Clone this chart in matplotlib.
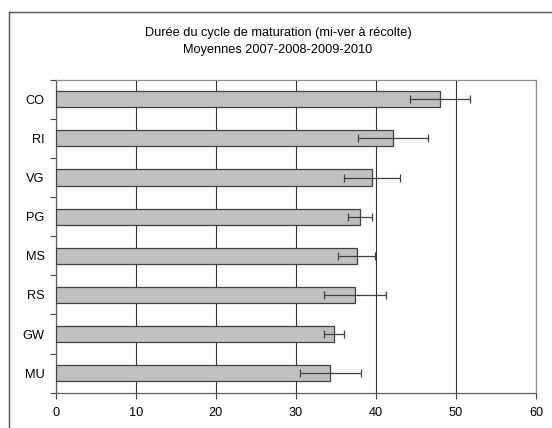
import matplotlib
matplotlib.use("Agg")
import matplotlib.pyplot as plt
from matplotlib.lines import Line2D
import numpy as np

plt.rcParams['font.family'] = ['Liberation Sans', 'DejaVu Sans']

categories = ["CO", "RI", "VG", "PG", "MS", "RS", "GW", "MU"]
values = [48.0, 42.1, 39.5, 38.0, 37.6, 37.4, 34.8, 34.3]
errors = [3.7, 4.4, 3.5, 1.5, 2.3, 3.85, 1.25, 3.85]
xticks = [0, 10, 20, 30, 40, 50, 60]

fig = plt.figure(figsize=(5.52, 4.28), dpi=100)
ax = fig.add_axes([0.1014, 0.0825, 0.8696, 0.7313])

pos = np.arange(len(categories))
ax.barh(pos, values, height=0.41, color="#c0c0c0", edgecolor="#404040",
        linewidth=0.9, zorder=3)
ax.errorbar(values, pos, xerr=errors, fmt="none", ecolor="#404040",
            elinewidth=0.9, capsize=3, capthick=0.9, zorder=4)

ax.set_xlim(0, 60)
ax.set_ylim(len(categories) - 0.5, -0.5)
ax.set_xticks(xticks)
ax.set_yticks(pos)
ax.set_yticklabels(categories)
ax.set_yticks(np.arange(len(categories) + 1) - 0.5, minor=True)
ax.tick_params(axis="y", which="major", length=0, pad=8, labelsize=9.2)
ax.tick_params(axis="y", which="minor", length=4, width=0.8, color="#404040", direction="out")
ax.tick_params(axis="x", length=4, width=0.8, color="#404040", labelsize=9.2, pad=6)

ax.grid(axis="x", color="#333333", linewidth=0.8, zorder=0)
for s in ["top", "right"]:
    ax.spines[s].set_color("#909090")
    ax.spines[s].set_linewidth(0.9)
for s in ["left", "bottom"]:
    ax.spines[s].set_color("#606060")
    ax.spines[s].set_linewidth(0.9)

fig.text(0.5036, 0.9229, "Durée du cycle de maturation (mi-ver à récolte)",
         ha="center", va="center", fontsize=9.2)
fig.text(0.5036, 0.8832, "Moyennes 2007-2008-2009-2010",
         ha="center", va="center", fontsize=9.2)

# chart frame (cropped Excel chart area)
fig.add_artist(Line2D([0.0163, 1.0], [0.9727, 0.9727], color="#555555", linewidth=1.0))
fig.add_artist(Line2D([0.0163, 0.0163], [0.0, 0.9727], color="#555555", linewidth=1.0))

fig.savefig("out.png", dpi=100)
